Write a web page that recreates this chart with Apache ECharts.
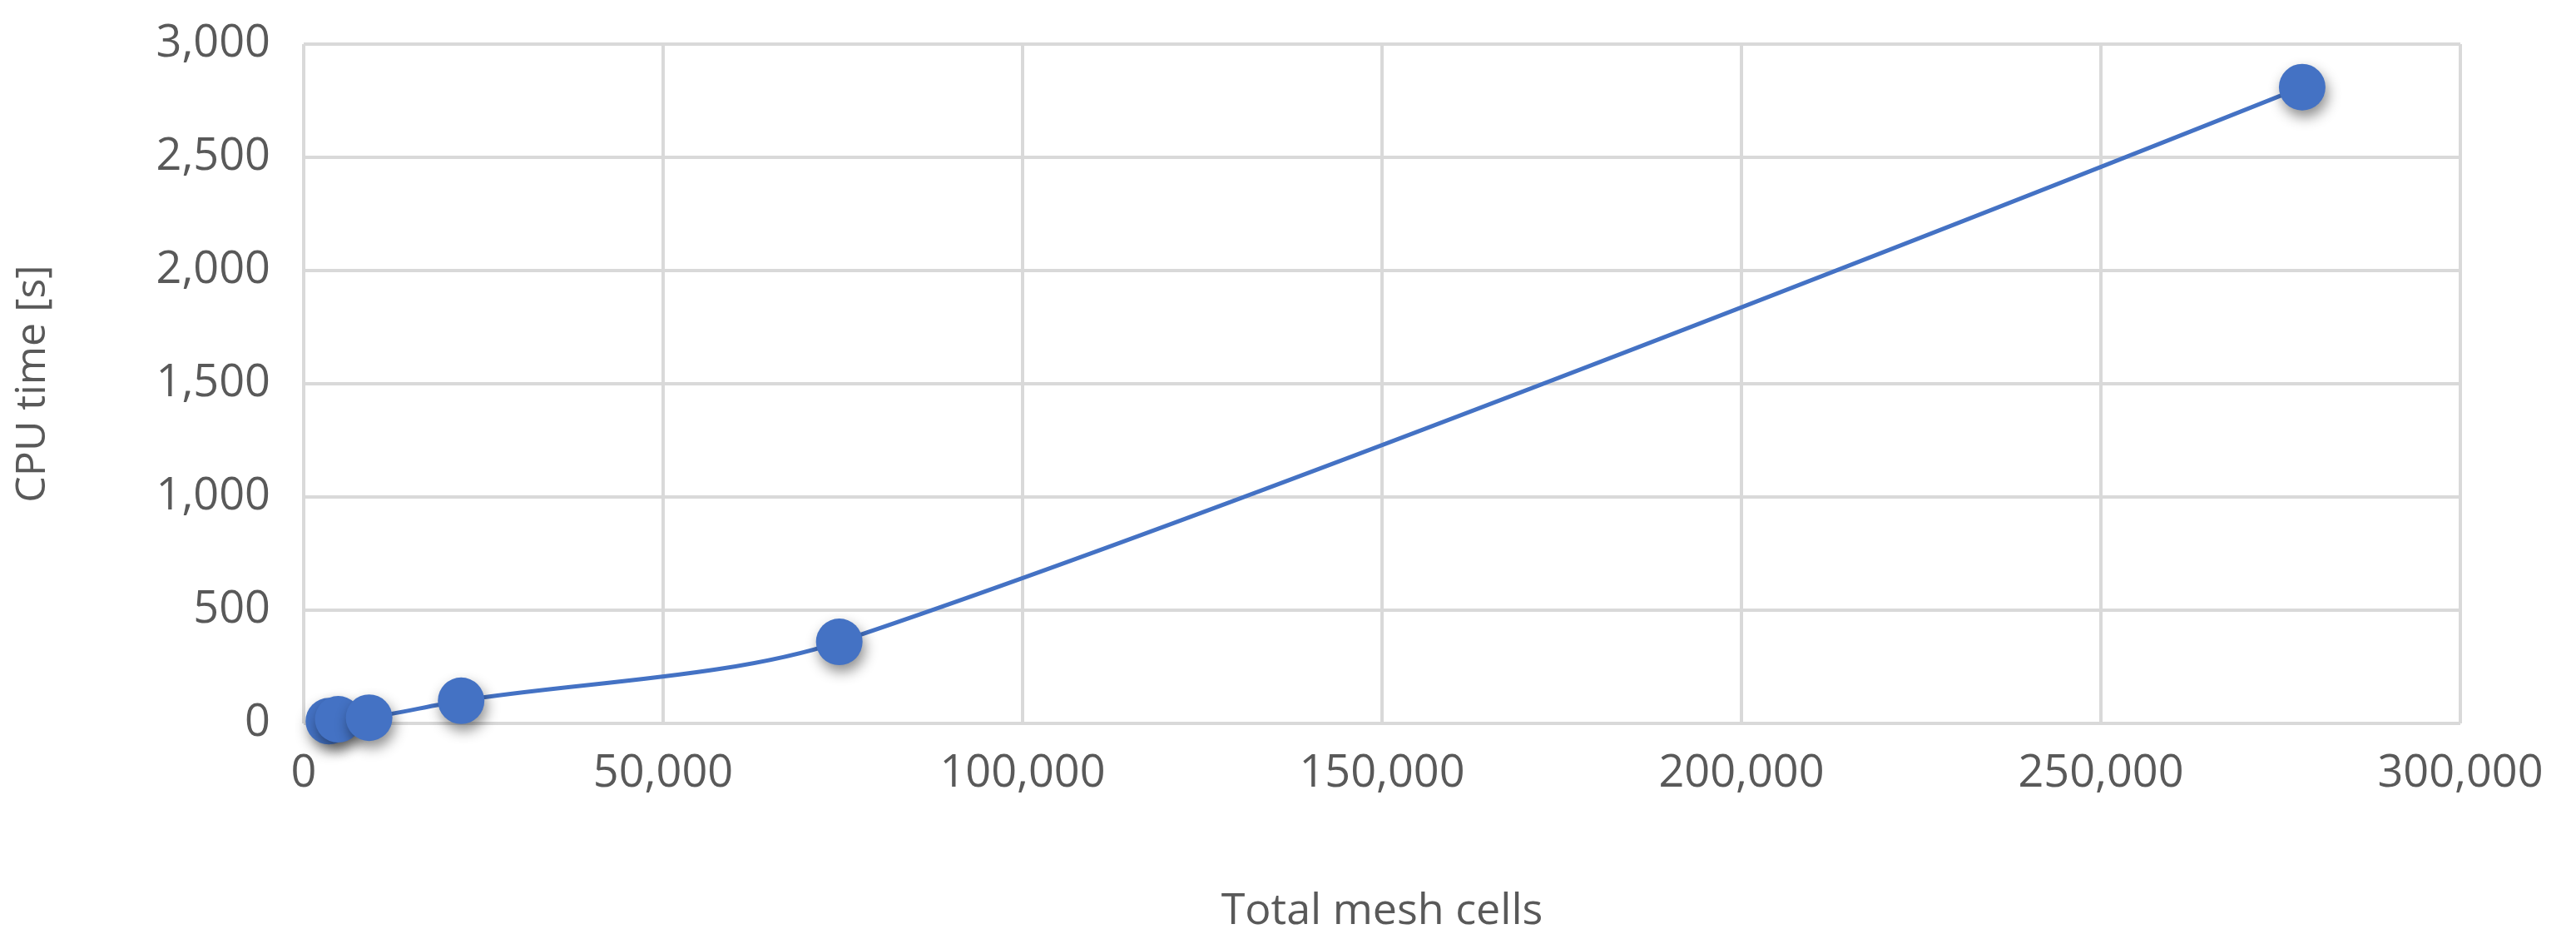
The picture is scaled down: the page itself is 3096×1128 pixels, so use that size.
<!DOCTYPE html>
<html>
<head>
<meta charset="utf-8"/>
<title>CPU time</title>
<script src="https://cdn.jsdelivr.net/npm/echarts@6/dist/echarts.min.js"></script>
<style>
    html, body { margin: 0; padding: 0; background: #fff; }
    #chart { width: 3096px; height: 1128px; }
</style>
</head>
<body>
<div id="chart"></div>
<script>
    // mesh cells vs CPU time
    var meshCells = [3500, 4800, 9100, 21900, 74500, 278000];
    var cpuTime = [10, 18, 25, 100, 360, 2810];

    var points = [];
    for (var i = 0; i < meshCells.length; i++) {
        points.push([meshCells[i], cpuTime[i]]);
    }

    var chart = echarts.init(document.getElementById('chart'));
    var labelColor = '#595959';
    var gridColor = '#d9d9d9';
    var fmt = function (v) { return v.toLocaleString('en-US'); };

    chart.setOption({
        animation: false,
        grid: { left: 365, right: 139, top: 53, bottom: 259 },
        xAxis: {
            type: 'value', min: 0, max: 300000, interval: 50000,
            name: 'Total mesh cells', nameLocation: 'middle', nameGap: 200,
            nameTextStyle: { color: labelColor, fontSize: 52, fontFamily: 'Open Sans' },
            axisLine: { show: false }, axisTick: { show: false },
            axisLabel: { color: labelColor, fontSize: 54, fontFamily: 'Open Sans', margin: 34, formatter: fmt },
            splitLine: { lineStyle: { color: gridColor, width: 4 } }
        },
        yAxis: {
            type: 'value', min: 0, max: 3000, interval: 500,
            name: 'CPU time [s]', nameLocation: 'middle', nameGap: 300,
            nameTextStyle: { color: labelColor, fontSize: 50, fontFamily: 'Open Sans' },
            axisLine: { show: false }, axisTick: { show: false },
            axisLabel: { color: labelColor, fontSize: 54, fontFamily: 'Open Sans', margin: 40, formatter: fmt },
            splitLine: { lineStyle: { color: gridColor, width: 4 } }
        },
        series: [{
            type: 'line',
            data: points,
            smooth: 0.3,
            symbol: 'circle',
            symbolSize: 56,
            lineStyle: { color: '#4472C4', width: 5 },
            itemStyle: {
                color: '#4472C4',
                shadowColor: 'rgba(0,0,0,0.45)', shadowBlur: 16, shadowOffsetX: 3, shadowOffsetY: 8
            }
        }]
    });
</script>
</body>
</html>
